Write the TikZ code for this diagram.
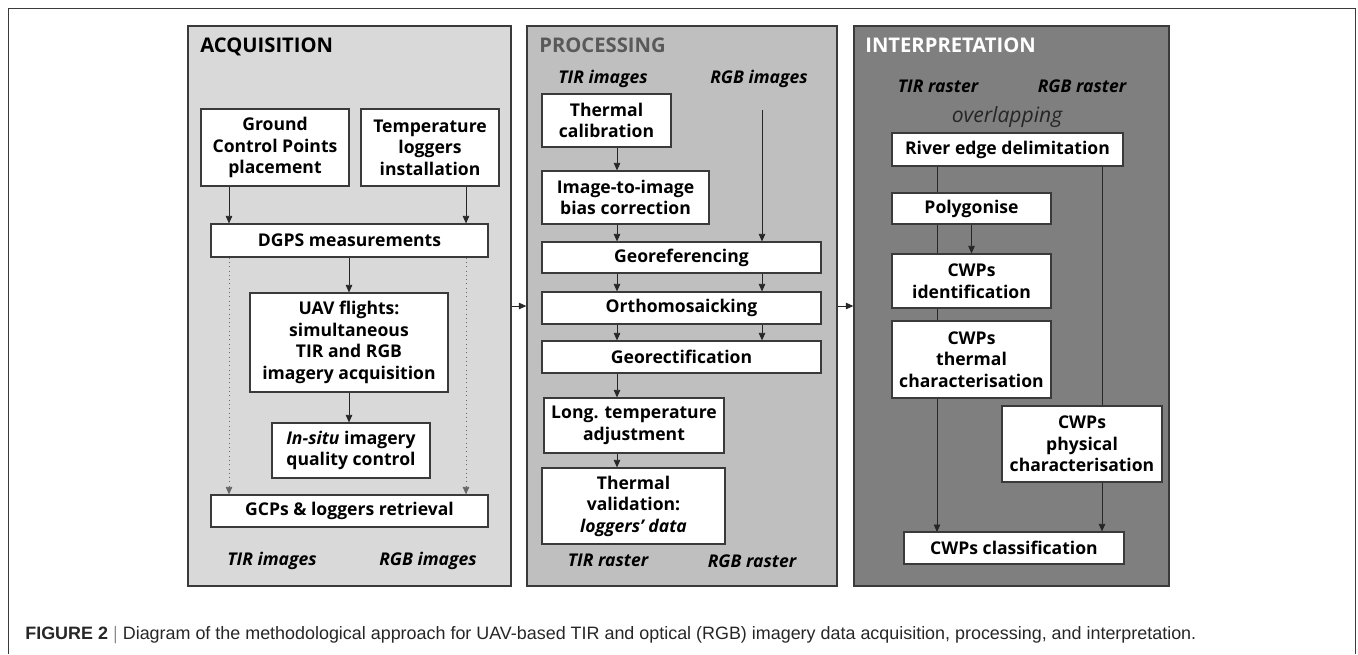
\documentclass[tikz,border=0pt]{standalone}
\usepackage{fontspec}
\setmainfont{Open Sans}
\newfontfamily\capfont{Liberation Sans}
\usetikzlibrary{arrows.meta}

\definecolor{acqgray}{HTML}{D9D9D9}
\definecolor{progray}{HTML}{BFBFBF}
\definecolor{intgray}{HTML}{7F7F7F}
\definecolor{edgegray}{HTML}{3A3A3A}
\definecolor{titlegray}{HTML}{595959}

\tikzset{
  box/.style={draw=edgegray, fill=white, line width=0.7pt, align=center,
    inner sep=0pt, font=\fontsize{10}{12.2}\selectfont\bfseries},
  panel/.style={draw=edgegray, line width=0.8pt, inner sep=0pt,
    minimum height=11.2cm},
  arr/.style={-{Triangle[length=1.5mm,width=1.3mm]}, line width=0.45pt, draw=black!85},
  dotarr/.style={arr, dotted, draw=black!60},
  flow/.style={font=\fontsize{10}{12}\selectfont\bfseries\itshape},
  ptitle/.style={anchor=base west, inner sep=0pt, font=\fontsize{11.5}{13}\selectfont\bfseries}
}

\begin{document}
\begin{tikzpicture}[x=0.02cm, y=-0.02cm]
\useasboundingbox (0,0) rectangle (1358,654);

% outer frame
\draw[edgegray, line width=0.5pt] (8,654) -- (8,8) -- (1355,8) -- (1355,654);

% panels
\node[panel, fill=acqgray, minimum width=6.46cm] (acq) at (349.5,306) {};
\node[panel, fill=progray, minimum width=6.2cm] (pro) at (682,306) {};
\node[panel, fill=intgray, minimum width=6.3cm] (int) at (1011.5,306) {};

\node[ptitle] (acqtitle) at (200,52) {ACQUISITION};
\node[ptitle, text=titlegray] (protitle) at (539,52) {PROCESSING};
\node[ptitle, text=white] (inttitle) at (865,52) {INTERPRETATION};

\draw[arr] (acq.east) -- (pro.west);
\draw[arr] (pro.east) -- (int.west);

% acquisition
\node[box, minimum width=2.96cm, minimum height=1.54cm] (gcp) at (275,147.5) {Ground\\Control Points\\placement};
\node[box, minimum width=2.76cm, minimum height=1.54cm] (logger) at (430,147.5) {Temperature\\loggers\\installation};
\node[box, minimum width=5.54cm, minimum height=0.66cm] (dgps) at (349.5,240.5) {DGPS measurements};
\node[box, minimum width=3.96cm, minimum height=1.98cm] (uav) at (349,342.5) {UAV flights:\\simultaneous\\TIR and RGB\\imagery acquisition};
\node[box, minimum width=3.16cm, minimum height=1.10cm] (insitu) at (351,450.5) {\textit{In-situ} imagery\\quality control};
\node[box, minimum width=5.54cm, minimum height=0.64cm] (retr) at (349.5,511) {GCPs \& loggers retrieval};
\node[flow] (acqtir) at (272,561) {TIR images};
\node[flow] (acqrgb) at (428,561) {RGB images};

\coordinate (al) at (229,0);
\coordinate (ar) at (466,0);
\draw[arr] (al |- gcp.south) -- (al |- dgps.north);
\draw[arr] (ar |- logger.south) -- (ar |- dgps.north);
\draw[arr] (dgps.south -| uav.north) -- (uav.north);
\draw[arr] (uav.south) -- (uav.south |- insitu.north);
\draw[dotarr] (al |- dgps.south) -- (al |- retr.north);
\draw[dotarr] (ar |- dgps.south) -- (ar |- retr.north);

% processing
\node[flow] (protir) at (603,79) {TIR images};
\node[flow] (prorgb) at (759,79) {RGB images};
\node[box, minimum width=2.58cm, minimum height=1.06cm] (calib) at (606.5,120.5) {Thermal\\calibration};
\node[box, minimum width=3.34cm, minimum height=1.06cm] (bias) at (625.5,197.5) {Image-to-image\\bias correction};
\node[box, minimum width=5.58cm, minimum height=0.62cm] (georef) at (681.5,257.5) {Georeferencing};
\node[box, minimum width=5.58cm, minimum height=0.64cm] (ortho) at (681.5,308) {Orthomosaicking};
\node[box, minimum width=5.58cm, minimum height=0.64cm] (georect) at (681.5,357) {Georectification};
\node[box, minimum width=3.6cm, minimum height=1.10cm] (longadj) at (634,425.5) {Long. temperature\\adjustment};
\node[box, minimum width=3.66cm, minimum height=1.52cm] (valid) at (633.5,506) {Thermal\\validation:\\\textit{loggers' data}};
\node[flow] (protirr) at (608,560) {TIR raster};
\node[flow] (prorgbr) at (752,561) {RGB raster};

\coordinate (pl) at (617,0);
\coordinate (pr) at (762,110);
\draw[arr] (pl |- calib.south) -- (pl |- bias.north);
\draw[arr] (pl |- bias.south) -- (pl |- georef.north);
\draw[arr] (pr) -- (pr |- georef.north);
\draw[arr] (pl |- georef.south) -- (pl |- ortho.north);
\draw[arr] (pr |- georef.south) -- (pr |- ortho.north);
\draw[arr] (pl |- ortho.south) -- (pl |- georect.north);
\draw[arr] (pr |- ortho.south) -- (pr |- georect.north);
\draw[arr] (pl |- georect.south) -- (pl |- longadj.north);
\draw[arr] (pl |- longadj.south) -- (pl |- valid.north);

% interpretation
\node[flow] (inttir) at (938,86) {TIR raster};
\node[flow] (intrgb) at (1082,86) {RGB raster};
\node[font=\fontsize{12}{14}\selectfont\itshape, text=black!85] (overlap) at (1007,117) {overlapping};
\coordinate (il) at (937,0);
\coordinate (ir) at (1102,0);
\node[box, minimum width=4.62cm, minimum height=0.66cm] (river) at (1007.5,149.5) {River edge delimitation};
% long line behind the boxes
\draw[arr] (il |- river.south) -- (il |- 0,532);
\node[box, minimum width=3.18cm, minimum height=0.62cm] (poly) at (971.5,208.5) {Polygonise};
\node[box, minimum width=3.18cm, minimum height=1.08cm] (ident) at (971.5,281) {CWPs\\identification};
\node[box, minimum width=3.18cm, minimum height=1.54cm] (therm) at (971.5,359.5) {CWPs\\thermal\\characterisation};
\node[box, minimum width=3.2cm, minimum height=1.52cm] (phys) at (1082,444) {CWPs\\physical\\characterisation};
\node[box, minimum width=4.4cm, minimum height=0.64cm] (classif) at (1014,548) {CWPs classification};

\draw[arr] (poly.south) -- (ident.north);
\draw[line width=0.45pt, black!85] (ir |- river.south) -- (ir |- phys.north);
\draw[arr] (ir |- phys.south) -- (ir |- classif.north);

% caption
\node[anchor=base west, inner sep=0pt, font=\capfont\fontsize{10.2}{12}\selectfont, text=black!85] (caption) at (25,639)
  {\textbf{FIGURE 2 $|$} Diagram of the methodological approach for UAV-based TIR and optical (RGB) imagery data acquisition, processing, and interpretation.};
\end{tikzpicture}
\end{document}
